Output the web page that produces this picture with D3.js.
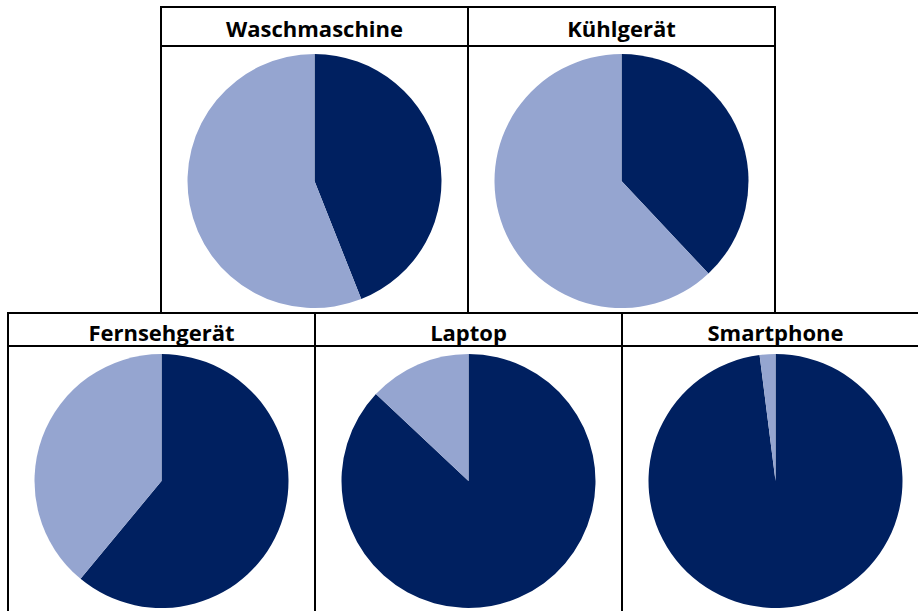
<!DOCTYPE html>
<html>
<head>
<meta charset="utf-8">
<script src="https://cdn.jsdelivr.net/npm/d3@7"></script>
<style>
  body { margin: 0; background: #fff; }
  svg { display: block; }
  .title { font-family: "Open Sans", "DejaVu Sans", sans-serif; font-weight: 700; font-size: 22px; }
</style>
</head>
<body>
<svg width="918" height="611"></svg>
<script>
// data (share in %)
var categories = ['Waschmaschine', 'Kühlgerät', 'Fernsehgerät', 'Laptop', 'Smartphone'];
var anteil = [44, 38, 61, 87, 98];
var rest = [56, 62, 39, 13, 2];
var rowOf = [0, 0, 1, 1, 1];

var svg = d3.select('svg');
var panelW = 307, radius = 127;
var rows = [
    { x0: 161, y0: 7, titleH: 39, ty: 30, cy: 174, h: 306 },
    { x0: 8, y0: 313, titleH: 33, ty: 28, cy: 168, h: 300 }
];

var color = d3.scaleOrdinal()
    .domain(['anteil', 'rest'])
    .range(['#002060', '#95a5d0']);

var pie = d3.pie().sort(null).value(function(d) { return d.value; });
var arc = d3.arc().innerRadius(0).outerRadius(radius);

var slot = [0, 0];
categories.forEach(function(cat, i) {
    var r = rows[rowOf[i]];
    var col = slot[rowOf[i]]++;
    var x = r.x0 + col * panelW;
    var g = svg.append('g').attr('transform', 'translate(' + x + ',' + r.y0 + ')');

    var slices = [
        { key: 'anteil', value: anteil[i] },
        { key: 'rest', value: rest[i] }
    ];
    g.append('g')
        .attr('transform', 'translate(' + (panelW / 2) + ',' + r.cy + ')')
        .selectAll('path')
        .data(pie(slices))
        .enter().append('path')
        .attr('d', arc)
        .attr('fill', function(d) { return color(d.data.key); });

    // title box
    g.append('rect')
        .attr('width', panelW).attr('height', r.titleH)
        .attr('fill', 'none').attr('stroke', '#000').attr('stroke-width', 2);
    g.append('text').attr('class', 'title')
        .attr('x', panelW / 2).attr('y', r.ty)
        .attr('text-anchor', 'middle')
        .text(cat);

    // side borders
    g.append('line').attr('x1', 0).attr('x2', 0).attr('y1', 0).attr('y2', r.h)
        .attr('stroke', '#000').attr('stroke-width', 2);
    g.append('line').attr('x1', panelW).attr('x2', panelW).attr('y1', 0).attr('y2', r.h)
        .attr('stroke', '#000').attr('stroke-width', 2);
});
</script>
</body>
</html>
